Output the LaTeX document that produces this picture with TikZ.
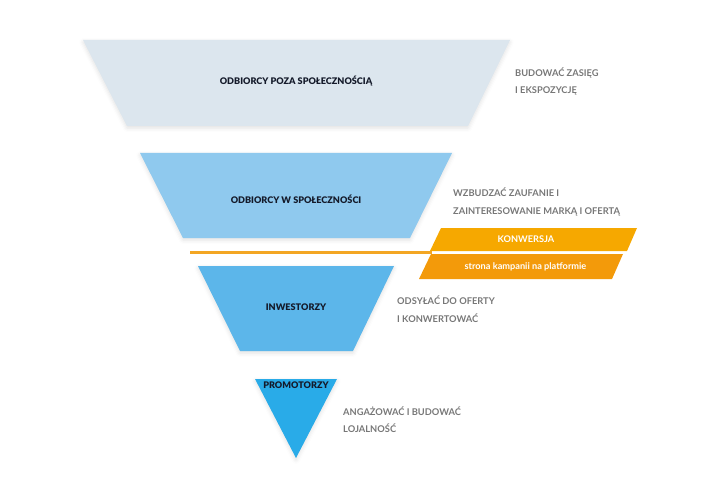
\documentclass[tikz,border=0pt]{standalone}
\usepackage{fontspec}
\setmainfont{Lato}
\newfontfamily\heavyfont{Lato Black}
\usetikzlibrary{calc,shadows.blur}
\definecolor{layA}{HTML}{DCE6EE}
\definecolor{layB}{HTML}{8FC9EE}
\definecolor{layC}{HTML}{5CB6EA}
\definecolor{layD}{HTML}{29ABE8}
\definecolor{orgA}{HTML}{F6A800}
\definecolor{orgB}{HTML}{F39A0A}
\definecolor{orgL}{HTML}{F3A623}
\definecolor{txtG}{HTML}{777777}
\definecolor{txtD}{HTML}{141A2A}
\tikzset{
  layer/.style={draw=none,blur shadow={shadow xshift=0pt,shadow yshift=-2pt,shadow blur radius=4pt,shadow opacity=12}},
  conv/.style={draw=none},
  lvl/.style={font=\heavyfont\fontsize{9.1}{10}\selectfont,text=txtD,inner sep=0pt},
  aim/.style={font=\bfseries\fontsize{9.3}{17.5}\selectfont,text=txtG,align=left,anchor=west,inner sep=0pt},
  cvt/.style={font=\bfseries\fontsize{9.2}{10}\selectfont,text=white,inner sep=0pt},
  bar/.style={line width=3pt,orgL},
}
\begin{document}
\begin{tikzpicture}[x=1pt,y=-1pt]
  \useasboundingbox (0,0) rectangle (720,500);
  % ---------- funnel layers ----------
  \fill[layer,layA] (83,40) -- (510,40) -- (468,126) -- (127,126) -- cycle;
  \node[lvl] (outside) at (296,81) {ODBIORCY POZA SPOŁECZNOŚCIĄ};
  \fill[layer,layB] (140,153) -- (452,153) -- (410,238) -- (183,238) -- cycle;
  \node[lvl] (inside) at (296,199) {ODBIORCY W SPOŁECZNOŚCI};
  \fill[layer,layC] (198,266) -- (394,266) -- (353,351) -- (240,351) -- cycle;
  \node[lvl] (investors) at (296,307) {INWESTORZY};
  \fill[layer,layD] (255,379) -- (337,379) -- (296,458) -- cycle;
  \node[lvl] (promoters) at (296,385) {PROMOTORZY};
  % ---------- conversion band ----------
  \fill[conv,orgA] (441,228) -- (637,228) -- (627,251) -- (430,251) -- cycle;
  \node[cvt] (konw) at (526,239.5) {KONWERSJA};
  \fill[conv,orgB] (431,254) -- (623,254) -- (612,279) -- (419,279) -- cycle;
  \node[cvt] (page) at (525.5,266.5) {strona kampanii na platformie};
  \coordinate (barL) at (190,252);
  \coordinate (barR) at (432,252);
  \draw[bar] (barL) -- (barR);
  % ---------- goals ----------
  \node[aim] (goalA) at (515,81.5) {BUDOWAĆ ZASIĘG\\I EKSPOZYCJĘ};
  \node[aim] (goalB) at (453,202) {WZBUDZAĆ ZAUFANIE I\\ZAINTERESOWANIE MARKĄ I OFERTĄ};
  \node[aim] (goalC) at (397,309) {ODSYŁAĆ DO OFERTY\\I KONWERTOWAĆ};
  \node[aim] (goalD) at (343,419.5) {ANGAŻOWAĆ I BUDOWAĆ\\LOJALNOŚĆ};
\end{tikzpicture}
\end{document}
